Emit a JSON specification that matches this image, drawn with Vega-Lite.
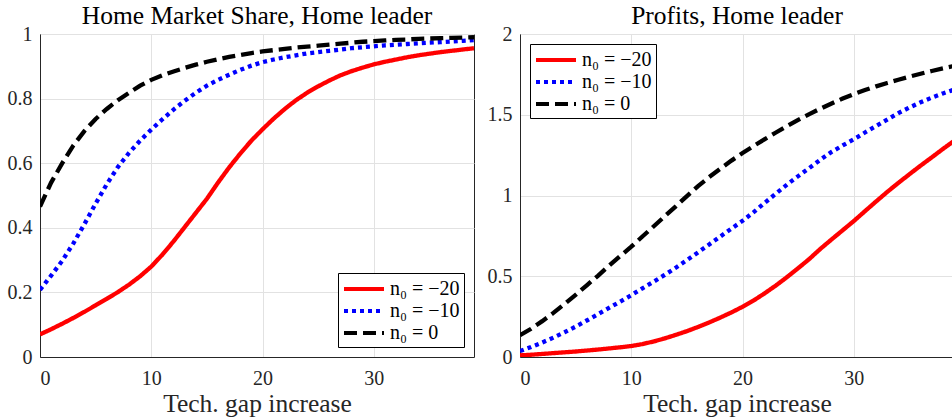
{
  "$schema": "https://vega.github.io/schema/vega-lite/v6.json",
  "background": "white",
  "padding": {"left": 6, "top": 3, "right": 0, "bottom": 0},
  "config": {
    "font": "Liberation Serif",
    "view": {"stroke": "#262626", "strokeWidth": 1},
    "style": {
      "guide-label": {"font": "Liberation Serif"},
      "guide-title": {"font": "Liberation Serif"},
      "group-title": {"font": "Liberation Serif"}
    },
    "axis": {
      "domainColor": "#262626",
      "labelColor": "#262626",
      "titleColor": "#262626",
      "gridColor": "#e2e2e2",
      "labelFont": "Liberation Serif",
      "labelFontSize": 20,
      "titleFont": "Liberation Serif",
      "titleFontSize": 25.5,
      "titleFontWeight": "normal",
      "ticks": false,
      "labelPadding": 8
    },
    "title": {"font": "Liberation Serif", "fontSize": 25.5, "fontWeight": "normal", "color": "#000000", "offset": -5},
    "legend": {
      "labelFont": "Liberation Serif",
      "labelFontSize": 20,
      "labelColor": "#000000"
    }
  },
  "datasets": {
    "d": [
      {"g":0,"n":"n₀ = −20","share":0.070,"profit":0.010},
      {"g":1,"n":"n₀ = −20","share":0.086,"profit":0.014},
      {"g":2,"n":"n₀ = −20","share":0.103,"profit":0.019},
      {"g":3,"n":"n₀ = −20","share":0.121,"profit":0.024},
      {"g":4,"n":"n₀ = −20","share":0.140,"profit":0.029},
      {"g":5,"n":"n₀ = −20","share":0.160,"profit":0.034},
      {"g":6,"n":"n₀ = −20","share":0.180,"profit":0.040},
      {"g":7,"n":"n₀ = −20","share":0.201,"profit":0.046},
      {"g":8,"n":"n₀ = −20","share":0.224,"profit":0.053},
      {"g":9,"n":"n₀ = −20","share":0.250,"profit":0.060},
      {"g":10,"n":"n₀ = −20","share":0.280,"profit":0.068},
      {"g":11,"n":"n₀ = −20","share":0.317,"profit":0.080},
      {"g":12,"n":"n₀ = −20","share":0.358,"profit":0.096},
      {"g":13,"n":"n₀ = −20","share":0.402,"profit":0.115},
      {"g":14,"n":"n₀ = −20","share":0.446,"profit":0.137},
      {"g":15,"n":"n₀ = −20","share":0.490,"profit":0.160},
      {"g":16,"n":"n₀ = −20","share":0.540,"profit":0.186},
      {"g":17,"n":"n₀ = −20","share":0.587,"profit":0.214},
      {"g":18,"n":"n₀ = −20","share":0.630,"profit":0.244},
      {"g":19,"n":"n₀ = −20","share":0.670,"profit":0.276},
      {"g":20,"n":"n₀ = −20","share":0.705,"profit":0.311},
      {"g":21,"n":"n₀ = −20","share":0.738,"profit":0.350},
      {"g":22,"n":"n₀ = −20","share":0.768,"profit":0.395},
      {"g":23,"n":"n₀ = −20","share":0.795,"profit":0.443},
      {"g":24,"n":"n₀ = −20","share":0.818,"profit":0.495},
      {"g":25,"n":"n₀ = −20","share":0.838,"profit":0.550},
      {"g":26,"n":"n₀ = −20","share":0.856,"profit":0.607},
      {"g":27,"n":"n₀ = −20","share":0.872,"profit":0.670},
      {"g":28,"n":"n₀ = −20","share":0.885,"profit":0.728},
      {"g":29,"n":"n₀ = −20","share":0.896,"profit":0.785},
      {"g":30,"n":"n₀ = −20","share":0.906,"profit":0.842},
      {"g":31,"n":"n₀ = −20","share":0.914,"profit":0.903},
      {"g":32,"n":"n₀ = −20","share":0.921,"profit":0.963},
      {"g":33,"n":"n₀ = −20","share":0.928,"profit":1.022},
      {"g":34,"n":"n₀ = −20","share":0.934,"profit":1.078},
      {"g":35,"n":"n₀ = −20","share":0.939,"profit":1.132},
      {"g":36,"n":"n₀ = −20","share":0.944,"profit":1.185},
      {"g":37,"n":"n₀ = −20","share":0.948,"profit":1.236},
      {"g":38,"n":"n₀ = −20","share":0.952,"profit":1.288},
      {"g":39,"n":"n₀ = −20","share":0.956,"profit":1.338},
      {"g":0,"n":"n₀ = −10","share":0.208,"profit":0.037},
      {"g":1,"n":"n₀ = −10","share":0.252,"profit":0.062},
      {"g":2,"n":"n₀ = −10","share":0.298,"profit":0.090},
      {"g":3,"n":"n₀ = −10","share":0.352,"profit":0.120},
      {"g":4,"n":"n₀ = −10","share":0.412,"profit":0.153},
      {"g":5,"n":"n₀ = −10","share":0.475,"profit":0.188},
      {"g":6,"n":"n₀ = −10","share":0.535,"profit":0.226},
      {"g":7,"n":"n₀ = −10","share":0.588,"profit":0.264},
      {"g":8,"n":"n₀ = −10","share":0.632,"profit":0.304},
      {"g":9,"n":"n₀ = −10","share":0.670,"profit":0.343},
      {"g":10,"n":"n₀ = −10","share":0.704,"profit":0.383},
      {"g":11,"n":"n₀ = −10","share":0.736,"profit":0.425},
      {"g":12,"n":"n₀ = −10","share":0.766,"profit":0.466},
      {"g":13,"n":"n₀ = −10","share":0.793,"profit":0.508},
      {"g":14,"n":"n₀ = −10","share":0.818,"profit":0.553},
      {"g":15,"n":"n₀ = −10","share":0.840,"profit":0.600},
      {"g":16,"n":"n₀ = −10","share":0.858,"profit":0.648},
      {"g":17,"n":"n₀ = −10","share":0.874,"profit":0.697},
      {"g":18,"n":"n₀ = −10","share":0.889,"profit":0.746},
      {"g":19,"n":"n₀ = −10","share":0.902,"profit":0.795},
      {"g":20,"n":"n₀ = −10","share":0.913,"profit":0.843},
      {"g":21,"n":"n₀ = −10","share":0.921,"profit":0.897},
      {"g":22,"n":"n₀ = −10","share":0.928,"profit":0.955},
      {"g":23,"n":"n₀ = −10","share":0.934,"profit":1.012},
      {"g":24,"n":"n₀ = −10","share":0.940,"profit":1.068},
      {"g":25,"n":"n₀ = −10","share":0.944,"profit":1.120},
      {"g":26,"n":"n₀ = −10","share":0.948,"profit":1.170},
      {"g":27,"n":"n₀ = −10","share":0.952,"profit":1.222},
      {"g":28,"n":"n₀ = −10","share":0.956,"profit":1.270},
      {"g":29,"n":"n₀ = −10","share":0.959,"profit":1.310},
      {"g":30,"n":"n₀ = −10","share":0.962,"profit":1.348},
      {"g":31,"n":"n₀ = −10","share":0.965,"profit":1.390},
      {"g":32,"n":"n₀ = −10","share":0.967,"profit":1.430},
      {"g":33,"n":"n₀ = −10","share":0.969,"profit":1.470},
      {"g":34,"n":"n₀ = −10","share":0.971,"profit":1.510},
      {"g":35,"n":"n₀ = −10","share":0.973,"profit":1.545},
      {"g":36,"n":"n₀ = −10","share":0.975,"profit":1.577},
      {"g":37,"n":"n₀ = −10","share":0.977,"profit":1.606},
      {"g":38,"n":"n₀ = −10","share":0.979,"profit":1.632},
      {"g":39,"n":"n₀ = −10","share":0.981,"profit":1.655},
      {"g":0,"n":"n₀ = 0","share":0.466,"profit":0.135},
      {"g":1,"n":"n₀ = 0","share":0.540,"profit":0.175},
      {"g":2,"n":"n₀ = 0","share":0.600,"profit":0.222},
      {"g":3,"n":"n₀ = 0","share":0.655,"profit":0.273},
      {"g":4,"n":"n₀ = 0","share":0.700,"profit":0.328},
      {"g":5,"n":"n₀ = 0","share":0.737,"profit":0.385},
      {"g":6,"n":"n₀ = 0","share":0.768,"profit":0.444},
      {"g":7,"n":"n₀ = 0","share":0.795,"profit":0.503},
      {"g":8,"n":"n₀ = 0","share":0.818,"profit":0.565},
      {"g":9,"n":"n₀ = 0","share":0.840,"profit":0.625},
      {"g":10,"n":"n₀ = 0","share":0.858,"profit":0.683},
      {"g":11,"n":"n₀ = 0","share":0.872,"profit":0.746},
      {"g":12,"n":"n₀ = 0","share":0.884,"profit":0.808},
      {"g":13,"n":"n₀ = 0","share":0.895,"profit":0.871},
      {"g":14,"n":"n₀ = 0","share":0.905,"profit":0.933},
      {"g":15,"n":"n₀ = 0","share":0.914,"profit":0.996},
      {"g":16,"n":"n₀ = 0","share":0.922,"profit":1.058},
      {"g":17,"n":"n₀ = 0","share":0.929,"profit":1.114},
      {"g":18,"n":"n₀ = 0","share":0.935,"profit":1.166},
      {"g":19,"n":"n₀ = 0","share":0.941,"profit":1.216},
      {"g":20,"n":"n₀ = 0","share":0.946,"profit":1.263},
      {"g":21,"n":"n₀ = 0","share":0.950,"profit":1.307},
      {"g":22,"n":"n₀ = 0","share":0.954,"profit":1.349},
      {"g":23,"n":"n₀ = 0","share":0.958,"profit":1.390},
      {"g":24,"n":"n₀ = 0","share":0.961,"profit":1.430},
      {"g":25,"n":"n₀ = 0","share":0.964,"profit":1.468},
      {"g":26,"n":"n₀ = 0","share":0.967,"profit":1.504},
      {"g":27,"n":"n₀ = 0","share":0.970,"profit":1.538},
      {"g":28,"n":"n₀ = 0","share":0.973,"profit":1.570},
      {"g":29,"n":"n₀ = 0","share":0.976,"profit":1.600},
      {"g":30,"n":"n₀ = 0","share":0.978,"profit":1.628},
      {"g":31,"n":"n₀ = 0","share":0.980,"profit":1.653},
      {"g":32,"n":"n₀ = 0","share":0.982,"profit":1.676},
      {"g":33,"n":"n₀ = 0","share":0.983,"profit":1.697},
      {"g":34,"n":"n₀ = 0","share":0.985,"profit":1.717},
      {"g":35,"n":"n₀ = 0","share":0.986,"profit":1.736},
      {"g":36,"n":"n₀ = 0","share":0.987,"profit":1.754},
      {"g":37,"n":"n₀ = 0","share":0.988,"profit":1.771},
      {"g":38,"n":"n₀ = 0","share":0.989,"profit":1.787},
      {"g":39,"n":"n₀ = 0","share":0.990,"profit":1.802}
    ]
  },
  "spacing": 46,
  "bounds": "flush",
  "resolve": {
    "scale": {"color": "independent", "strokeDash": "independent"},
    "legend": {"color": "independent", "strokeDash": "independent"}
  },
  "hconcat": [
    {
      "data": {"name": "d"},
      "width": 434,
      "height": 323,
      "title": {"text": "Home Market Share, Home leader", "font": "Liberation Serif"},
      "mark": {"type": "line", "strokeWidth": 4.3, "clip": true, "strokeCap": "butt"},
      "encoding": {
        "x": {"field": "g", "type": "quantitative", "scale": {"domain": [0, 39], "nice": false}, "axis": {"values": [0, 10, 20, 30], "title": "Tech. gap increase", "labelFont": "Liberation Serif", "titleFont": "Liberation Serif", "labelPadding": 11, "titlePadding": 3}},
        "y": {"field": "share", "type": "quantitative", "scale": {"domain": [0, 1], "nice": false}, "axis": {"values": [0, 0.2, 0.4, 0.6, 0.8, 1], "format": "~g", "title": null, "labelFont": "Liberation Serif"}},
        "color": {"field": "n", "type": "nominal", "scale": {"domain": ["n₀ = −20", "n₀ = −10", "n₀ = 0"], "range": ["#ff0000", "#0000ff", "#000000"]},
          "legend": {"title": null, "orient": "bottom-right", "offset": 10, "labelFont": "Liberation Serif", "symbolType": "M-1,0H3", "symbolSize": 400, "symbolStrokeWidth": 4, "strokeColor": "#000000", "fillColor": "#ffffff", "padding": 4, "rowPadding": 0, "labelOffset": 24, "cornerRadius": 0}},
        "strokeDash": {"field": "n", "type": "nominal", "scale": {"domain": ["n₀ = −20", "n₀ = −10", "n₀ = 0"], "range": [[1, 0], [4, 4], [13, 6]]},
          "legend": {"title": null, "orient": "bottom-right", "offset": 10, "labelFont": "Liberation Serif", "symbolType": "M-1,0H3", "symbolSize": 400, "symbolStrokeWidth": 4, "strokeColor": "#000000", "fillColor": "#ffffff", "padding": 4, "rowPadding": 0, "labelOffset": 24, "cornerRadius": 0}}
      }
    },
    {
      "data": {"name": "d"},
      "width": 434,
      "height": 323,
      "title": {"text": "Profits, Home leader", "font": "Liberation Serif"},
      "mark": {"type": "line", "strokeWidth": 4.3, "clip": true, "strokeCap": "butt"},
      "encoding": {
        "x": {"field": "g", "type": "quantitative", "scale": {"domain": [0, 39], "nice": false}, "axis": {"values": [0, 10, 20, 30], "title": "Tech. gap increase", "labelFont": "Liberation Serif", "titleFont": "Liberation Serif", "labelPadding": 11, "titlePadding": 3}},
        "y": {"field": "profit", "type": "quantitative", "scale": {"domain": [0, 2], "nice": false}, "axis": {"values": [0, 0.5, 1, 1.5, 2], "format": "~g", "title": null, "labelFont": "Liberation Serif"}},
        "color": {"field": "n", "type": "nominal", "scale": {"domain": ["n₀ = −20", "n₀ = −10", "n₀ = 0"], "range": ["#ff0000", "#0000ff", "#000000"]},
          "legend": {"title": null, "orient": "top-left", "offset": 10, "labelFont": "Liberation Serif", "symbolType": "M-1,0H3", "symbolSize": 400, "symbolStrokeWidth": 4, "strokeColor": "#000000", "fillColor": "#ffffff", "padding": 4, "rowPadding": 0, "labelOffset": 24, "cornerRadius": 0}},
        "strokeDash": {"field": "n", "type": "nominal", "scale": {"domain": ["n₀ = −20", "n₀ = −10", "n₀ = 0"], "range": [[1, 0], [4, 4], [13, 6]]},
          "legend": {"title": null, "orient": "top-left", "offset": 10, "labelFont": "Liberation Serif", "symbolType": "M-1,0H3", "symbolSize": 400, "symbolStrokeWidth": 4, "strokeColor": "#000000", "fillColor": "#ffffff", "padding": 4, "rowPadding": 0, "labelOffset": 24, "cornerRadius": 0}}
      }
    }
  ]
}
